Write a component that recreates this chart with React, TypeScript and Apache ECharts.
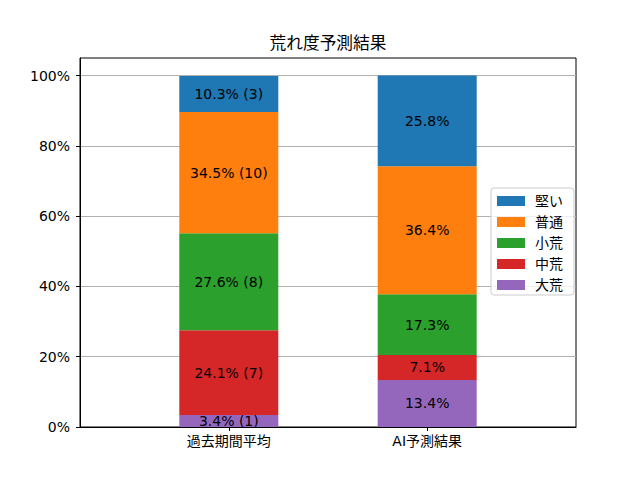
import React, { useEffect, useRef } from "react";
import * as echarts from "echarts";

const categories = ["過去期間平均", "AI予測結果"];
const seriesNames = ["大荒", "中荒", "小荒", "普通", "堅い"];
const colors = ["#9467bd", "#d62728", "#2ca02c", "#ff7f0e", "#1f77b4"];
const pastPct = [3.4, 24.1, 27.6, 34.5, 10.3];
const pastCounts = [1, 7, 8, 10, 3];
const aiPct = [13.4, 7.1, 17.3, 36.4, 25.8];
const yTicks = [0, 20, 40, 60, 80, 100];
const legendOrder = ["堅い", "普通", "小荒", "中荒", "大荒"];

const FONT = "'DejaVu Sans', 'Noto Sans CJK JP', sans-serif";

export default function App() {
  const ref = useRef<HTMLDivElement>(null);
  useEffect(() => {
    if (!ref.current) return;
    const chart = echarts.init(ref.current, null, { renderer: "svg" });
    const series = seriesNames.map((name, i) => ({
      name,
      type: "bar",
      stack: "total",
      barWidth: 99,
      encode: { x: 1, y: 0 },
      itemStyle: { color: colors[i] },
      label: {
        show: true,
        position: "inside",
        color: "#000",
        fontSize: 14,
        fontFamily: FONT,
        formatter: (p: any) =>
          p.dataIndex === 0
            ? `${pastPct[i].toFixed(1)}% (${pastCounts[i]})`
            : `${aiPct[i].toFixed(1)}%`,
      },
      data: [
        [pastPct[i], 0],
        [aiPct[i], 1],
      ],
    }));
    chart.setOption({
      animation: false,
      textStyle: { fontFamily: FONT },
      title: {
        text: "荒れ度予測結果",
        left: 328,
        textAlign: "center",
        top: 35,
        padding: 0,
        textStyle: { fontSize: 16.7, fontWeight: "normal", color: "#000", fontFamily: FONT },
      },
      legend: {
        orient: "vertical",
        left: 491,
        top: 188,
        data: legendOrder,
        itemWidth: 28,
        itemHeight: 10,
        itemGap: 7,
        padding: [6, 11, 3, 6],
        borderColor: "#cccccc",
        borderWidth: 1,
        borderRadius: 3,
        backgroundColor: "rgba(255,255,255,0.8)",
        textStyle: { fontSize: 14, color: "#000", fontFamily: FONT, padding: [0, 0, 0, 5] },
        icon: "rect",
      },
      grid: {
        left: 80,
        right: 64,
        top: 58,
        bottom: 53,
        show: true,
        borderColor: "#000",
        borderWidth: 1,
      },
      xAxis: {
        type: "value",
        min: -0.75,
        max: 1.75,
        splitLine: { show: false },
        axisLine: { show: true, onZero: false, lineStyle: { color: "#000" } },
        axisTick: { show: true, length: 4, lineStyle: { color: "#000" }, customValues: [0, 1] },
        axisLabel: {
          customValues: [0, 1],
          formatter: (v: number) => categories[Math.round(v)] ?? "",
          color: "#000",
          fontSize: 14,
          margin: 7,
          fontFamily: FONT,
        },
      },
      yAxis: {
        type: "value",
        min: 0,
        max: 105,
        interval: 20,
        axisLine: { show: true, onZero: false, lineStyle: { color: "#000" } },
        axisTick: { show: true, length: 4, lineStyle: { color: "#000" }, customValues: yTicks },
        axisLabel: {
          customValues: yTicks,
          formatter: (v: number) => (v > 100 ? "" : `${v}%`),
          color: "#000",
          fontSize: 14,
          margin: 10,
          fontFamily: FONT,
        },
        splitLine: { show: true, lineStyle: { color: "#b0b0b0", width: 1 } },
      },
      series,
    });
    return () => chart.dispose();
  }, []);
  return (
    <div
      ref={ref}
      style={{ position: "absolute", left: 0, top: 0, width: 640, height: 480 }}
    />
  );
}
